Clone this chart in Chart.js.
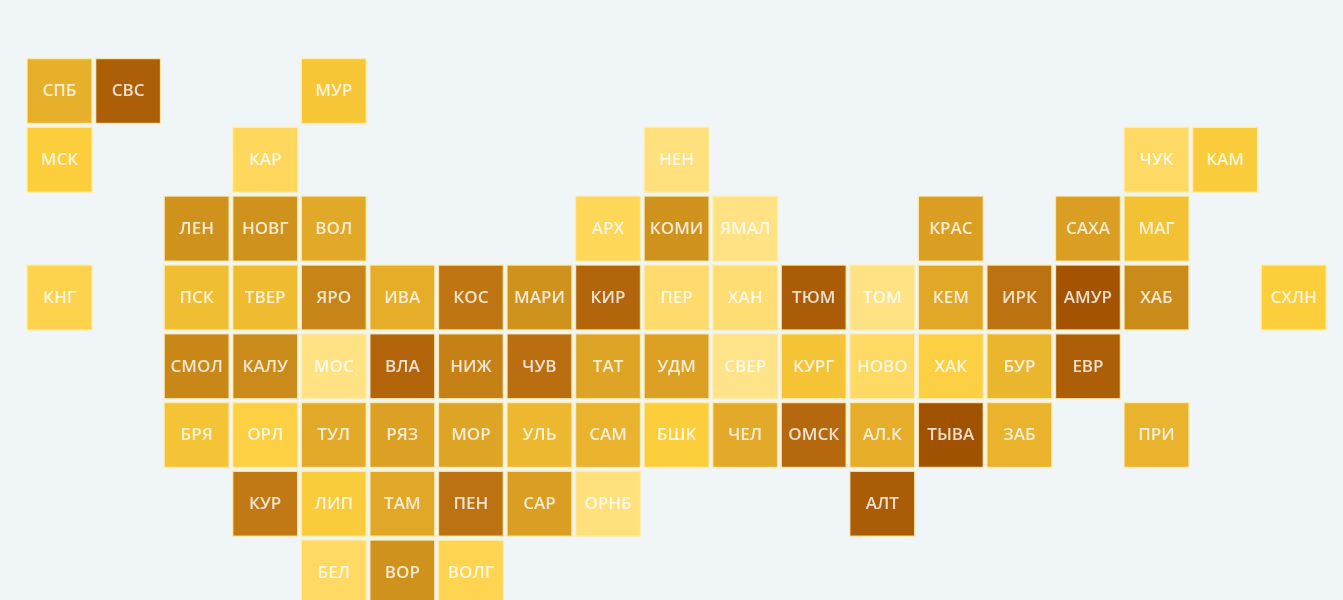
<!DOCTYPE html>
<html>
<head>
<meta charset="utf-8">
<style>
  html, body { margin: 0; padding: 0; background: #f0f5f7; overflow: hidden; }
  #wrap { width: 1343px; height: 600px; }
  #tile-map { filter: blur(0.7px); }
</style>
<script src="https://cdn.jsdelivr.net/npm/chart.js@4/dist/chart.umd.min.js"></script>
</head>
<body>
<div id="wrap"><canvas id="tile-map"></canvas></div>
<script>
const regions = [
    'СПБ', 'СВС', 'МУР',
    'МСК', 'КАР', 'НЕН', 'ЧУК', 'КАМ',
    'ЛЕН', 'НОВГ', 'ВОЛ', 'АРХ', 'КОМИ', 'ЯМАЛ', 'КРАС', 'САХА', 'МАГ',
    'КНГ', 'ПСК', 'ТВЕР', 'ЯРО', 'ИВА', 'КОС', 'МАРИ', 'КИР', 'ПЕР', 'ХАН', 'ТЮМ', 'ТОМ', 'КЕМ', 'ИРК', 'АМУР', 'ХАБ', 'СХЛН',
    'СМОЛ', 'КАЛУ', 'МОС', 'ВЛА', 'НИЖ', 'ЧУВ', 'ТАТ', 'УДМ', 'СВЕР', 'КУРГ', 'НОВО', 'ХАК', 'БУР', 'ЕВР',
    'БРЯ', 'ОРЛ', 'ТУЛ', 'РЯЗ', 'МОР', 'УЛЬ', 'САМ', 'БШК', 'ЧЕЛ', 'ОМСК', 'АЛ.К', 'ТЫВА', 'ЗАБ', 'ПРИ',
    'КУР', 'ЛИП', 'ТАМ', 'ПЕН', 'САР', 'ОРНБ', 'АЛТ',
    'БЕЛ', 'ВОР', 'ВОЛГ'
]
const gridCols = [
    0, 1, 4,
    0, 3, 9, 16, 17,
    2, 3, 4, 8, 9, 10, 13, 15, 16,
    0, 2, 3, 4, 5, 6, 7, 8, 9, 10, 11, 12, 13, 14, 15, 16, 18,
    2, 3, 4, 5, 6, 7, 8, 9, 10, 11, 12, 13, 14, 15,
    2, 3, 4, 5, 6, 7, 8, 9, 10, 11, 12, 13, 14, 16,
    3, 4, 5, 6, 7, 8, 12,
    4, 5, 6
]
const gridRows = [
    0, 0, 0,
    1, 1, 1, 1, 1,
    2, 2, 2, 2, 2, 2, 2, 2, 2,
    3, 3, 3, 3, 3, 3, 3, 3, 3, 3, 3, 3, 3, 3, 3, 3, 3,
    4, 4, 4, 4, 4, 4, 4, 4, 4, 4, 4, 4, 4, 4,
    5, 5, 5, 5, 5, 5, 5, 5, 5, 5, 5, 5, 5, 5,
    6, 6, 6, 6, 6, 6, 6,
    7, 7, 7
]
// no legend in the picture, so these are just read off how dark each tile is (0 light .. 10 dark)
const shades = [
    4, 9, 2.5,
    2, 1.2, 0.4, 1, 2.2,
    6, 6, 4.5, 1.3, 6, 0.2, 5.2, 5.2, 2.8,
    1.6, 3, 3.2, 6.8, 4.2, 7.6, 6, 8.6, 0.8, 0.6, 9.2, 0.2, 4.6, 7.8, 9.8, 6.4, 2,
    6.6, 6.4, 0.2, 8.6, 7, 8, 4.8, 5, 0.1, 2.6, 1, 1.8, 3.6, 9,
    2.6, 1.8, 4.4, 5, 4.8, 3.4, 3.8, 2, 4.4, 8.4, 4.2, 9.9, 3.8, 3.8,
    7.4, 2.2, 4.6, 7.8, 5.2, 0.4, 9.2,
    1, 6, 1.5
]

const colorStops = [
    [0, [255, 228, 140]],
    [2, [253, 206, 60]],
    [3, [240, 190, 50]],
    [4.5, [226, 169, 40]],
    [6, [207, 146, 28]],
    [8, [186, 110, 16]],
    [10, [160, 80, 0]]
]

const shadeColor = v => {
    for (let i = 1; i < colorStops.length; i++) {
        if (v <= colorStops[i][0]) {
            const [a, ca] = colorStops[i - 1]
            const [b, cb] = colorStops[i]
            const t = (v - a) / (b - a)
            const c = ca.map((x, k) => Math.round(x + (cb[k] - x) * t))
            return `rgb(${c[0]}, ${c[1]}, ${c[2]})`
        }
    }
    return 'rgb(160, 80, 0)'
}

const tileLabels = {
    id: 'tileLabels',
    afterDatasetsDraw(chart) {
        const { ctx } = chart
        ctx.save()
        ctx.font = '600 17px "Open Sans"'
        ctx.textAlign = 'center'
        ctx.textBaseline = 'middle'
        chart.getDatasetMeta(0).data.forEach((pt, i) => {
            ctx.fillStyle = 'rgba(255, 255, 255, 0.8)'
            ctx.fillText(regions[i], pt.x, pt.y + 0.5)
        })
        ctx.restore()
    }
}

const ctx = document.getElementById('tile-map').getContext('2d')
const chart = new Chart(ctx, {
    type: 'scatter',
    plugins: [tileLabels],
    data: {
        datasets: [{
            data: regions.map((r, i) => ({ x: gridCols[i], y: gridRows[i] })),
            backgroundColor: shades.map(shadeColor),
            borderColor: 'rgba(255, 238, 180, 0.85)',
            borderWidth: 1.5,
            pointStyle: 'rect',
            pointRadius: 46,
            pointHoverRadius: 46
        }]
    },
    options: {
        responsive: true,
        maintainAspectRatio: false,
        animation: false,
        layout: { padding: 0, autoPadding: false },
        plugins: {
            legend: { display: false },
            tooltip: { enabled: false }
        },
        scales: {
            x: { display: false, min: -0.868, max: 18.72 },
            y: { display: false, reverse: true, min: -1.323, max: 7.398 }
        }
    }
})
</script>
</body>
</html>
